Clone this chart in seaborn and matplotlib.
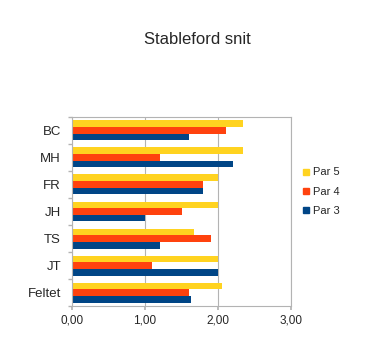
import matplotlib
matplotlib.use("Agg")
import matplotlib.pyplot as plt
import seaborn as sns
import pandas as pd
from matplotlib.lines import Line2D
from matplotlib.ticker import FuncFormatter

players = ["BC", "MH", "FR", "JH", "TS", "JT", "Feltet"]
par5 = [2.34, 2.34, 2.00, 2.00, 1.67, 2.00, 2.06]
par4 = [2.11, 1.20, 1.80, 1.50, 1.90, 1.10, 1.60]
par3 = [1.60, 2.20, 1.80, 1.00, 1.20, 2.00, 1.63]
series = ["Par 5", "Par 4", "Par 3"]
colors = ["#FFD320", "#FF420E", "#004586"]
xticks = [0, 1, 2, 3]

rows = []
for name, vals in zip(series, [par5, par4, par3]):
    for p, v in zip(players, vals):
        rows.append({"player": p, "series": name, "value": v})
df = pd.DataFrame(rows)

sns.set_theme(style="white")
plt.rcParams["font.family"] = ["Liberation Sans", "DejaVu Sans"]

fig = plt.figure(figsize=(3.66, 3.47), dpi=100)
ax = fig.add_axes([0.197, 0.118, 0.598, 0.545])

sns.barplot(data=df, y="player", x="value", hue="series", order=players,
            hue_order=series, palette=colors, orient="h", width=0.74,
            saturation=1, ax=ax, legend=False, edgecolor="none")

ax.set_xlim(0, 3)
ax.set_xticks(xticks)
ax.xaxis.set_major_formatter(FuncFormatter(lambda v, p: f"{v:.2f}".replace(".", ",")))
ax.grid(axis="x", color="#b3b3b3", linewidth=0.8)
ax.set_axisbelow(True)
for s in ax.spines.values():
    s.set_color("#b3b3b3")
    s.set_linewidth(0.8)
ax.set_xlabel("")
ax.set_ylabel("")
ax.tick_params(axis="x", labelsize=8.5, length=3, color="#b3b3b3", bottom=True, pad=3)
ax.tick_params(axis="y", labelsize=9.5, length=0, pad=8)
ax.set_yticks([i + 0.5 for i in range(-1, len(players))], minor=True)
ax.tick_params(axis="y", which="minor", length=3, color="#b3b3b3", left=True)

fig.text(0.54, 0.885, "Stableford snit", ha="center", va="center", fontsize=12)

handles = [Line2D([0], [0], marker="s", linestyle="none", markersize=5,
                  markerfacecolor=c, markeredgecolor=c) for c in colors]
fig.legend(handles, series, loc="center left", bbox_to_anchor=(0.815, 0.447),
           frameon=False, fontsize=8, handlelength=0.6, handletextpad=0.3,
           labelspacing=0.85, borderaxespad=0)

fig.savefig("out.png", dpi=100)
